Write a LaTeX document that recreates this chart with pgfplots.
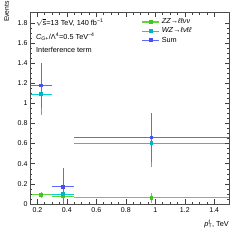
\documentclass[border=0pt]{standalone}
\usepackage{pgfplots}
\pgfplotsset{compat=1.18}
\usepackage{fontspec}
\setmainfont{Liberation Sans}
\usetikzlibrary{calc}
\definecolor{cZZ}{RGB}{100,212,60}
\definecolor{cZZm}{RGB}{70,195,30}
\definecolor{cWZ}{RGB}{0,212,212}
\definecolor{cWZm}{RGB}{0,180,200}
\definecolor{cSum}{RGB}{95,105,255}
\definecolor{cSumm}{RGB}{70,80,240}
\pgfplotsset{
  binline/.style={draw=#1, color=#1, line width=1.1pt, unbounded coords=jump, forget plot, mark=none},
  binmark/.style={only marks, mark=square*, mark size=1.3pt, color=#1, line width=1.1pt},
}
\begin{document}
\begin{tikzpicture}
\begin{axis}[
  scale only axis, width=199pt, height=191.3pt,
  xmin=0.15, xmax=1.5, ymin=0, ymax=1.9,
  xtick={0.2,0.4,...,1.41}, ytick={0,0.2,...,1.81},
  minor tick num=3,
  tick align=inside, ticks=both,
  xtick pos=both, ytick pos=both,
  major tick length=4.5pt, minor tick length=2.3pt,
  axis line style={black!70, line width=0.9pt},
  tick style={black!75, line width=0.5pt},
  tick label style={font=\fontsize{7}{8}\selectfont},
  /pgf/number format/assume math mode=true,
  yticklabel style={xshift=1pt},
  legend style={at={(rel axis cs:0.56,0.98)}, anchor=north west, draw=none, fill=none,
    font=\fontsize{7.3}{8}\selectfont, row sep=-1.5pt, inner sep=0pt},
  legend cell align=left,
  legend image code/.code={\draw[#1, sharp plot, mark repeat=2, mark phase=2] plot coordinates {(0cm,0cm)(0.3cm,0cm)(0.6cm,0cm)};},
  clip=false,
  axis on top,
]
% ZZ -> llvv
\addplot[binline=cZZ] coordinates {
  (0.15,0.092) (0.3,0.092) (nan,nan)
  (0.3,0.077) (0.45,0.077) (nan,nan)
  (0.45,0.063) (1.5,0.063) (nan,nan)
  (0.225,0.060) (0.225,0.124) (nan,nan)
  (0.375,0.065) (0.375,0.089) (nan,nan)
  (0.975,0.013) (0.975,0.113)
  };
\addplot[binmark=cZZ, mark options={fill=cZZm, draw=cZZm}] coordinates {
  (0.225,0.092) (0.375,0.077) (0.975,0.063)
  };
\addlegendentry{\textit{ZZ}→\textit{ℓℓνν}}
% WZ -> lvll
\addplot[binline=cWZ] coordinates {
  (0.15,1.09) (0.3,1.09) (nan,nan)
  (0.3,0.097) (0.45,0.097) (nan,nan)
  (0.45,0.604) (1.5,0.604) (nan,nan)
  (0.225,0.88) (0.225,1.30) (nan,nan)
  (0.375,0.067) (0.375,0.127) (nan,nan)
  (0.975,0.372) (0.975,0.836)
  };
\addplot[binmark=cWZ, mark options={fill=cWZm, draw=cWZm}] coordinates {
  (0.225,1.09) (0.375,0.097) (0.975,0.604)
  };
\addlegendentry{\textit{WZ}→\textit{ℓνℓℓ}}
% Sum
\addplot[binline=cSum] coordinates {
  (0.15,1.178) (0.3,1.178) (nan,nan)
  (0.3,0.172) (0.45,0.172) (nan,nan)
  (0.45,0.66) (1.5,0.66) (nan,nan)
  (0.225,0.956) (0.225,1.40) (nan,nan)
  (0.375,0.0) (0.375,0.357) (nan,nan)
  (0.975,0.42) (0.975,0.90)
  };
\addplot[binmark=cSum, mark options={fill=cSumm, draw=cSumm}] coordinates {
  (0.225,1.178) (0.375,0.172) (0.975,0.66)
  };
\addlegendentry{Sum}
\node[anchor=west, font=\fontsize{7.3}{8}\selectfont, inner sep=0pt] at (rel axis cs:0.03,0.948) {$\sqrt{\hbox{s}}$=13 TeV, 140 fb\textsuperscript{−1}};
\node[anchor=west, font=\fontsize{7.3}{8}\selectfont, inner sep=0pt] at (rel axis cs:0.03,0.875) {\textit{C}\textsubscript{\textit{G+}}/Λ\textsuperscript{4}=0.5 TeV\textsuperscript{−4}};
\node[anchor=west, font=\fontsize{7.3}{8}\selectfont, inner sep=0pt] at (rel axis cs:0.03,0.805) {Interference term};
\end{axis}
\node[rotate=90, anchor=base east, font=\fontsize{6.8}{7}\selectfont, inner sep=0pt] at ($(current axis.north west)+(-21pt,11.7pt)$) {Events};
\node[anchor=base east, font=\fontsize{7.3}{8}\selectfont, inner sep=0pt] at ($(current axis.south east)+(0pt,-22.5pt)$) {\textit{p}\rlap{\textsuperscript{ℓ}}\textsubscript{T}, TeV};
\pgfresetboundingbox
\path ($(current axis.south west)+(-30pt,-36pt)$) rectangle ($(current axis.north east)+(20pt,12.7pt)$);
\end{tikzpicture}
\end{document}
